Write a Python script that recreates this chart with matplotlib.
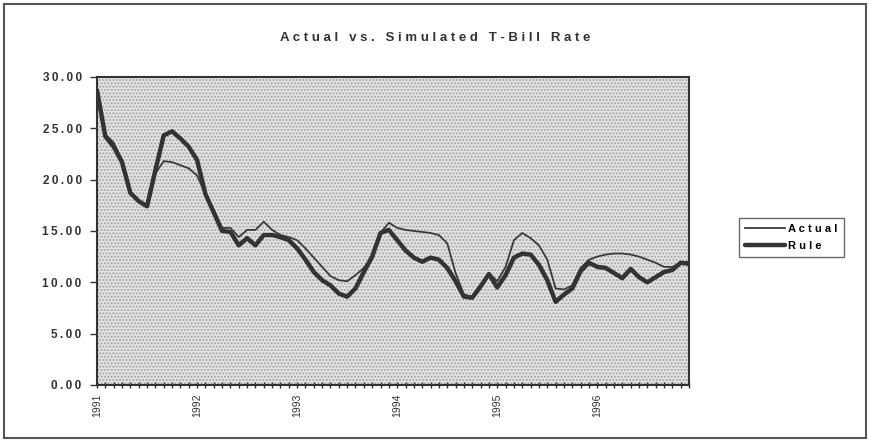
import numpy as np
import matplotlib
matplotlib.use("Agg")
import matplotlib.pyplot as plt
from matplotlib.patches import Rectangle

# monthly T-bill rates, Jan 1991 - Dec 1996
actual = [28.7, 24.4, 23.6, 21.9, 18.7, 17.9, 17.5, 20.6, 21.8, 21.7, 21.4, 21.1,
          20.4, 18.6, 17.0, 15.3, 15.3, 14.4, 15.1, 15.1, 15.9, 15.1, 14.6, 14.4,
          14.1, 13.3, 12.4, 11.5, 10.6, 10.2, 10.1, 10.7, 11.4, 12.5, 14.8, 15.8,
          15.3, 15.1, 15.0, 14.9, 14.8, 14.6, 13.8, 10.9, 8.8, 8.6, 9.7, 10.9,
          10.1, 11.5, 14.1, 14.8, 14.3, 13.6, 12.2, 9.4, 9.3, 9.7, 11.4, 12.2,
          12.5, 12.7, 12.8, 12.8, 12.7, 12.5, 12.2, 11.9, 11.5, 11.5, 11.9, 12.0]
rule = [28.7, 24.2, 23.2, 21.7, 18.7, 17.9, 17.4, 20.9, 24.3, 24.7, 24.0, 23.2,
        21.9, 18.6, 16.8, 15.0, 14.9, 13.6, 14.3, 13.6, 14.6, 14.6, 14.4, 14.1,
        13.3, 12.2, 11.0, 10.2, 9.7, 8.9, 8.6, 9.4, 11.0, 12.5, 14.8, 15.1,
        14.1, 13.1, 12.4, 12.0, 12.4, 12.2, 11.4, 10.1, 8.6, 8.5, 9.6, 10.8,
        9.5, 10.7, 12.4, 12.8, 12.7, 11.7, 10.2, 8.1, 8.8, 9.4, 11.1, 11.9,
        11.5, 11.4, 10.9, 10.4, 11.3, 10.5, 10.0, 10.5, 11.0, 11.2, 11.9, 11.8]
years = ["1991", "1992", "1993", "1994", "1995", "1996"]
yticks = [0, 5, 10, 15, 20, 25, 30]


def spaced(s, sep=" "):
    return sep.join(s)


plt.rcParams['font.family'] = ['Liberation Sans', 'DejaVu Sans']
plt.rcParams['hatch.linewidth'] = 0.9

fig = plt.figure(figsize=(8.7, 4.42), dpi=100)
fig.patch.set_facecolor('white')
fig.add_artist(Rectangle((0.005, 0.01), 0.99, 0.98, transform=fig.transFigure,
                         fill=False, edgecolor='#555555', linewidth=1.5))

ax = fig.add_axes([0.1115, 0.129, 0.6805, 0.697])
# stippled plot area
ax.add_patch(Rectangle((0, 0), 1, 1, transform=ax.transAxes, facecolor='#e2e2e2',
                       edgecolor='#a0a0a0', linewidth=0, hatch='.....', zorder=0))

x = np.arange(len(actual))
ax.plot(x, actual, color='#3a3a3a', linewidth=1.3, label=spaced("Actual"))
ax.plot(x, rule, color='#333333', linewidth=3.2, label=spaced("Rule"),
        solid_capstyle='round')

ax.set_xlim(0, len(actual) - 1)
ax.set_ylim(0, 30)
ax.set_yticks(yticks)
ax.set_yticklabels([spaced("%.2f" % v, "\u2009") for v in yticks],
                   fontsize=8.5, fontweight='bold', color='#333333')
ax.set_xticks(np.arange(0, len(actual), 12))
ax.set_xticklabels(years, rotation=90, fontsize=7.5, color='#333333')
ax.set_xticks(np.arange(len(actual)), minor=True)
ax.tick_params(axis='x', which='both', direction='inout', length=5, width=1,
               color='#333333')
ax.tick_params(axis='y', direction='out', length=5, width=1, color='#333333',
               pad=6)
for sp in ax.spines.values():
    sp.set_color('#333333')
    sp.set_linewidth(1.5)

fig.text(0.5, 0.915, spaced("Actual vs. Simulated T-Bill Rate"), ha='center',
         va='center', fontsize=9.5, fontweight='bold', color='#333333')

leg = fig.legend(loc='center', bbox_to_anchor=(0.9095, 0.463), frameon=True,
                 fancybox=False, edgecolor='#444444',
                 handlelength=3.6, handletextpad=0.3, borderpad=0.55,
                 labelspacing=0.6, prop={'weight': 'bold', 'size': 8})
leg.get_frame().set_linewidth(1.0)

fig.savefig("out.png", dpi=100)
